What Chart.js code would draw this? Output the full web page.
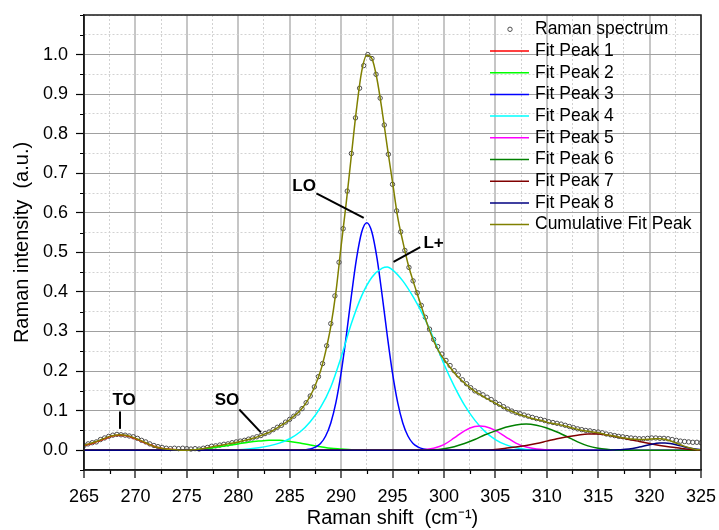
<!DOCTYPE html>
<html>
<head>
<meta charset="utf-8">
<title>Raman spectrum peak fit</title>
<script src="https://cdn.jsdelivr.net/npm/chart.js@4.4.0/dist/chart.umd.min.js"></script>
<style>
  html, body { margin: 0; padding: 0; background: #fff; }
  canvas { display: block; }
</style>
</head>
<body>
<canvas id="ramanChart" width="719" height="530"></canvas>
<script>
const ramanShift = [
  265.0, 265.4, 265.8, 266.2, 266.6, 267.0, 267.4, 267.8, 268.2, 268.6,
  269.0, 269.4, 269.8, 270.2, 270.6, 271.0, 271.4, 271.8, 272.2, 272.6,
  273.0, 273.4, 273.8, 274.2, 274.6, 275.0, 275.4, 275.8, 276.2, 276.6,
  277.0, 277.4, 277.8, 278.2, 278.6, 279.0, 279.4, 279.8, 280.2, 280.6,
  281.0, 281.4, 281.8, 282.2, 282.6, 283.0, 283.4, 283.8, 284.2, 284.6,
  285.0, 285.4, 285.8, 286.2, 286.6, 287.0, 287.4, 287.8, 288.2, 288.6,
  289.0, 289.4, 289.8, 290.2, 290.6, 291.0, 291.4, 291.8, 292.2, 292.6,
  293.0, 293.4, 293.8, 294.2, 294.6, 295.0, 295.4, 295.8, 296.2, 296.6,
  297.0, 297.4, 297.8, 298.2, 298.6, 299.0, 299.4, 299.8, 300.2, 300.6,
  301.0, 301.4, 301.8, 302.2, 302.6, 303.0, 303.4, 303.8, 304.2, 304.6,
  305.0, 305.4, 305.8, 306.2, 306.6, 307.0, 307.4, 307.8, 308.2, 308.6,
  309.0, 309.4, 309.8, 310.2, 310.6, 311.0, 311.4, 311.8, 312.2, 312.6,
  313.0, 313.4, 313.8, 314.2, 314.6, 315.0, 315.4, 315.8, 316.2, 316.6,
  317.0, 317.4, 317.8, 318.2, 318.6, 319.0, 319.4, 319.8, 320.2, 320.6,
  321.0, 321.4, 321.8, 322.2, 322.6, 323.0, 323.4, 323.8, 324.2, 324.6,
  325.0
];
const ramanIntensity = [
  0.012, 0.016, 0.019, 0.021, 0.027, 0.031, 0.035, 0.038, 0.040, 0.039,
  0.038, 0.036, 0.034, 0.030, 0.025, 0.021, 0.016, 0.012, 0.009, 0.007,
  0.005, 0.004, 0.005, 0.004, 0.005, 0.004, 0.003, 0.004, 0.003, 0.005,
  0.007, 0.010, 0.011, 0.013, 0.015, 0.016, 0.019, 0.021, 0.023, 0.025,
  0.028, 0.031, 0.034, 0.037, 0.042, 0.046, 0.052, 0.058, 0.063, 0.071,
  0.078, 0.086, 0.094, 0.105, 0.120, 0.137, 0.160, 0.186, 0.219, 0.264,
  0.320, 0.390, 0.475, 0.560, 0.655, 0.750, 0.840, 0.915, 0.972, 1.000,
  0.990, 0.950, 0.890, 0.822, 0.748, 0.672, 0.605, 0.552, 0.505, 0.462,
  0.428, 0.398, 0.366, 0.336, 0.306, 0.280, 0.262, 0.243, 0.227, 0.214,
  0.201, 0.190, 0.178, 0.168, 0.158, 0.150, 0.145, 0.140, 0.134, 0.128,
  0.121, 0.116, 0.110, 0.104, 0.099, 0.095, 0.092, 0.089, 0.086, 0.083,
  0.080, 0.078, 0.075, 0.072, 0.070, 0.068, 0.066, 0.063, 0.060, 0.057,
  0.054, 0.052, 0.050, 0.049, 0.047, 0.046, 0.044, 0.041, 0.039, 0.037,
  0.035, 0.034, 0.032, 0.031, 0.030, 0.029, 0.029, 0.030, 0.031, 0.031,
  0.030, 0.030, 0.029, 0.027, 0.025, 0.023, 0.022, 0.021, 0.020, 0.020,
  0.019
];

// cumulative fit curve
const fitShift = [
  265, 265.5, 266, 266.5, 267, 267.5, 268, 268.5, 269, 269.5,
  270, 270.5, 271, 271.5, 272, 272.5, 273, 273.5, 274, 274.5,
  275, 275.5, 276, 276.5, 277, 277.5, 278, 278.5, 279, 279.5,
  280, 280.5, 281, 281.5, 282, 282.5, 283, 283.5, 284, 284.5,
  285, 285.5, 286, 286.5, 287, 287.5, 288, 288.5, 289, 289.5,
  290, 290.5, 291, 291.5, 292, 292.5, 293, 293.5, 294, 294.5,
  295, 295.5, 296, 296.5, 297, 297.5, 298, 298.5, 299, 299.5,
  300, 300.5, 301, 301.5, 302, 302.5, 303, 303.5, 304, 304.5,
  305, 305.5, 306, 306.5, 307, 307.5, 308, 308.5, 309, 309.5,
  310, 310.5, 311, 311.5, 312, 312.5, 313, 313.5, 314, 314.5,
  315, 315.5, 316, 316.5, 317, 317.5, 318, 318.5, 319, 319.5,
  320, 320.5, 321, 321.5, 322, 322.5, 323, 323.5, 324, 324.5,
  325
];
const cumulativeFit = [
  0.013, 0.016, 0.020, 0.025, 0.030, 0.035, 0.038, 0.039, 0.038, 0.035,
  0.030, 0.025, 0.019, 0.013, 0.008, 0.005, 0.003, 0.002, 0.001, 0.000,
  0.000, 0.001, 0.002, 0.004, 0.006, 0.009, 0.011, 0.013, 0.016, 0.018,
  0.021, 0.024, 0.027, 0.031, 0.035, 0.040, 0.045, 0.052, 0.060, 0.068,
  0.077, 0.088, 0.100, 0.116, 0.137, 0.165, 0.200, 0.250, 0.313, 0.400,
  0.515, 0.625, 0.745, 0.862, 0.957, 0.998, 0.990, 0.937, 0.856, 0.765,
  0.678, 0.590, 0.528, 0.472, 0.428, 0.388, 0.348, 0.310, 0.277, 0.250,
  0.230, 0.213, 0.196, 0.182, 0.170, 0.159, 0.149, 0.141, 0.133, 0.126,
  0.119, 0.112, 0.105, 0.099, 0.094, 0.089, 0.085, 0.081, 0.078, 0.075,
  0.071, 0.068, 0.066, 0.063, 0.060, 0.056, 0.053, 0.050, 0.048, 0.046,
  0.044, 0.041, 0.038, 0.036, 0.033, 0.031, 0.029, 0.028, 0.027, 0.027,
  0.028, 0.029, 0.029, 0.028, 0.024, 0.019, 0.014, 0.009, 0.005, 0.002,
  0.001
];

// single fitted peaks
const peak1Shift  = [265, 265.5, 266, 266.5, 267, 267.5, 268, 268.5, 269, 269.5, 270, 270.5, 271, 271.5, 272, 272.5, 273, 273.5, 274, 274.5, 275, 325];
const peak1Values = [0.012, 0.015, 0.019, 0.024, 0.029, 0.034, 0.037, 0.038, 0.037, 0.034, 0.029, 0.024, 0.018, 0.013, 0.008, 0.005, 0.003, 0.002, 0.001, 0, 0, 0];

const peak2Shift  = [265, 275, 276, 277, 278, 279, 280, 281, 282, 283, 284, 285, 286, 287, 288, 289, 290, 291, 292, 325];
const peak2Values = [0, 0, 0.002, 0.004, 0.008, 0.012, 0.016, 0.020, 0.023, 0.025, 0.025, 0.022, 0.018, 0.013, 0.009, 0.005, 0.003, 0.001, 0, 0];

const peak3Shift  = [265, 286, 286.5, 287, 287.5, 288, 288.5, 289, 289.5, 290, 290.5, 291, 291.5, 292, 292.5, 293, 293.5, 294, 294.5, 295, 295.5, 296, 296.5, 297, 297.5, 298, 298.5, 299, 325];
const peak3Values = [0, 0, 0.001, 0.003, 0.008, 0.017, 0.036, 0.069, 0.121, 0.195, 0.288, 0.390, 0.484, 0.551, 0.575, 0.551, 0.484, 0.390, 0.288, 0.195, 0.121, 0.069, 0.036, 0.017, 0.008, 0.003, 0.001, 0, 0];

const peak4Shift  = [265, 279, 280, 281, 282, 283, 284, 285, 286, 287, 288, 289, 290, 291, 292, 293, 294, 294.5, 295, 296, 297, 298, 299, 300, 301, 302, 303, 304, 305, 306, 307, 308, 309, 325];
const peak4Values = [0, 0, 0.001, 0.003, 0.006, 0.011, 0.018, 0.029, 0.046, 0.072, 0.108, 0.160, 0.235, 0.320, 0.390, 0.437, 0.460, 0.463, 0.456, 0.428, 0.388, 0.340, 0.282, 0.218, 0.162, 0.114, 0.076, 0.047, 0.027, 0.014, 0.006, 0.002, 0, 0];

const peak5Shift  = [265, 297, 298, 299, 300, 301, 302, 303, 303.5, 304, 305, 306, 307, 308, 309, 310, 311, 325];
const peak5Values = [0, 0, 0.001, 0.005, 0.014, 0.031, 0.049, 0.060, 0.061, 0.060, 0.050, 0.034, 0.018, 0.008, 0.003, 0.001, 0, 0];

const peak6Shift  = [265, 298, 299, 300, 301, 302, 303, 304, 305, 306, 307, 308, 309, 310, 311, 312, 313, 314, 315, 316, 317, 325];
const peak6Values = [0, 0, 0.001, 0.004, 0.009, 0.017, 0.027, 0.039, 0.049, 0.058, 0.064, 0.066, 0.063, 0.056, 0.046, 0.034, 0.021, 0.011, 0.005, 0.002, 0, 0];

const peak7Shift  = [265, 304, 305, 306, 307, 308, 309, 310, 311, 312, 313, 314, 315, 316, 317, 318, 319, 320, 321, 322, 323, 324, 325];
const peak7Values = [0, 0, 0.002, 0.005, 0.008, 0.012, 0.017, 0.023, 0.029, 0.034, 0.038, 0.041, 0.041, 0.038, 0.033, 0.027, 0.022, 0.017, 0.012, 0.008, 0.005, 0.002, 0];

const peak8Shift  = [265, 316, 317, 318, 319, 320, 321, 321.5, 322, 323, 324, 325];
const peak8Values = [0, 0, 0.001, 0.003, 0.008, 0.014, 0.018, 0.018, 0.017, 0.011, 0.005, 0.001];

// axis tick labels
const xTickLabels = [265, 270, 275, 280, 285, 290, 295, 300, 305, 310, 315, 320, 325];
const yTickLabels = [0.0, 0.1, 0.2, 0.3, 0.4, 0.5, 0.6, 0.7, 0.8, 0.9, 1.0];

// peak labels: text position and pointer line, in data units
const peakNotes = [
  { text: 'TO', at: [268.9, 0.126], from: [268.5, 0.098], to: [268.5, 0.054] },
  { text: 'SO', at: [278.9, 0.125], from: [280.1, 0.103], to: [282.2, 0.045] },
  { text: 'LO', at: [286.4, 0.667], from: [287.6, 0.649], to: [292.2, 0.587] },
  { text: 'L+', at: [299.0, 0.524], from: [295.1, 0.476], to: [297.7, 0.513] }
];

const FONT = "'Liberation Sans', Arial, sans-serif";
Chart.defaults.font.family = FONT;
Chart.defaults.color = '#000';

const near = (a, b) => Math.abs(a - b) < 1e-6;
const isMajorX = v => xTickLabels.some(t => near(t, v));
const isMajorY = v => yTickLabels.some(t => near(t, v));
const pts = (xs, ys) => xs.map((x, i) => ({ x: x, y: ys[i] }));

function peakLine(label, color, xs, ys, order) {
  return {
    label: label,
    data: pts(xs, ys),
    borderColor: color,
    backgroundColor: color,
    borderWidth: 1.5,
    pointRadius: 0,
    fill: false,
    cubicInterpolationMode: 'monotone',
    order: order
  };
}

const datasets = [
  {
    label: 'Raman spectrum',
    data: pts(ramanShift, ramanIntensity),
    showLine: false,
    pointStyle: 'circle',
    pointRadius: 2.2,
    pointBorderWidth: 1,
    pointBorderColor: '#4d4d4d',
    pointBackgroundColor: 'rgba(255,255,255,0)',
    borderColor: '#4d4d4d',
    order: 10
  },
  peakLine('Fit Peak 1', '#ff0000', peak1Shift, peak1Values, 8),
  peakLine('Fit Peak 2', '#00ff00', peak2Shift, peak2Values, 7),
  peakLine('Fit Peak 3', '#0000ff', peak3Shift, peak3Values, 6),
  peakLine('Fit Peak 4', '#00ffff', peak4Shift, peak4Values, 5),
  peakLine('Fit Peak 5', '#ff00ff', peak5Shift, peak5Values, 4),
  peakLine('Fit Peak 6', '#008000', peak6Shift, peak6Values, 3),
  peakLine('Fit Peak 7', '#800000', peak7Shift, peak7Values, 2),
  peakLine('Fit Peak 8', '#000080', peak8Shift, peak8Values, 1),
  peakLine('Cumulative Fit Peak', '#808000', fitShift, cumulativeFit, 0)
];

// minor ticks (shorter) and the closed frame round the plot
const frameTicks = {
  id: 'frameTicks',
  afterDraw(chart) {
    const { ctx, chartArea: a, scales: { x, y } } = chart;
    ctx.save();
    ctx.strokeStyle = '#000';
    ctx.lineWidth = 1.2;
    ctx.beginPath();
    x.ticks.forEach(t => {
      if (isMajorX(t.value)) return;
      const px = Math.round(x.getPixelForValue(t.value)) + 0.5;
      ctx.moveTo(px, a.bottom);
      ctx.lineTo(px, a.bottom + 4);
    });
    y.ticks.forEach(t => {
      if (isMajorY(t.value)) return;
      const py = Math.round(y.getPixelForValue(t.value)) + 0.5;
      ctx.moveTo(a.left, py);
      ctx.lineTo(a.left - 4, py);
    });
    ctx.stroke();
    ctx.lineWidth = 1.5;
    ctx.strokeStyle = '#1a1a1a';
    ctx.strokeRect(a.left, a.top, a.right - a.left, a.bottom - a.top);
    ctx.restore();
  }
};

// TO / SO / LO / L+ labels
const peakLabels = {
  id: 'peakLabels',
  afterDatasetsDraw(chart) {
    const { ctx, scales: { x, y } } = chart;
    ctx.save();
    ctx.strokeStyle = '#000';
    ctx.lineWidth = 2;
    ctx.fillStyle = '#000';
    ctx.font = 'bold 17px ' + FONT;
    ctx.textAlign = 'center';
    ctx.textBaseline = 'middle';
    peakNotes.forEach(n => {
      ctx.beginPath();
      ctx.moveTo(x.getPixelForValue(n.from[0]), y.getPixelForValue(n.from[1]));
      ctx.lineTo(x.getPixelForValue(n.to[0]), y.getPixelForValue(n.to[1]));
      ctx.stroke();
      ctx.fillText(n.text, x.getPixelForValue(n.at[0]), y.getPixelForValue(n.at[1]));
    });
    ctx.restore();
  }
};

// legend inside the plot, top right
const insideLegend = {
  id: 'insideLegend',
  afterDraw(chart) {
    const { ctx, chartArea: a } = chart;
    const x0 = a.right - 211;
    ctx.save();
    ctx.font = '17.5px ' + FONT;
    ctx.textAlign = 'left';
    ctx.textBaseline = 'middle';
    chart.data.datasets.forEach((ds, i) => {
      const yRow = a.top + 14.3 + i * 21.7;
      if (ds.showLine === false) {
        ctx.beginPath();
        ctx.arc(x0 + 20, yRow, 2.2, 0, Math.PI * 2);
        ctx.lineWidth = 1;
        ctx.strokeStyle = ds.pointBorderColor;
        ctx.stroke();
      } else {
        ctx.beginPath();
        ctx.moveTo(x0, yRow);
        ctx.lineTo(x0 + 39, yRow);
        ctx.lineWidth = 1.5;
        ctx.strokeStyle = ds.borderColor;
        ctx.stroke();
      }
      ctx.fillStyle = '#000';
      ctx.fillText(ds.label, x0 + 45, yRow);
    });
    ctx.restore();
  }
};

new Chart(document.getElementById('ramanChart'), {
  type: 'line',
  data: { datasets: datasets },
  options: {
    responsive: false,
    animation: false,
    devicePixelRatio: 1,
    events: [],
    layout: { padding: { top: 15, right: 18, left: 0, bottom: 0 } },
    plugins: {
      legend: { display: false },
      tooltip: { enabled: false }
    },
    scales: {
      x: {
        type: 'linear',
        min: 265,
        max: 325,
        afterFit: s => { s.height = 60; s.paddingLeft = 0; s.paddingRight = 0; },
        ticks: {
          stepSize: 2.5,
          maxTicksLimit: 100,
          autoSkip: false,
          maxRotation: 0,
          padding: 8,
          font: { size: 18 },
          color: '#000',
          callback: v => isMajorX(v) ? String(v) : ''
        },
        grid: {
          color: c => isMajorX(c.tick.value) ? '#c6c6c6' : '#d2d2d2',
          lineWidth: c => isMajorX(c.tick.value) ? 2 : 1,
          tickColor: c => isMajorX(c.tick.value) ? '#000' : 'rgba(0,0,0,0)',
          tickLength: 8,
          tickWidth: 1.2
        },
        border: {
          display: true,
          color: '#1a1a1a',
          width: 1.5,
          dash: c => (c.tick && !isMajorX(c.tick.value)) ? [2, 2] : []
        },
        title: {
          display: true,
          text: 'Raman shift  (cm\u207B\u00B9)',
          font: { size: 20 },
          color: '#000',
          padding: { top: 0, bottom: 0 }
        }
      },
      y: {
        type: 'linear',
        min: -0.05,
        max: 1.1,
        afterFit: s => { s.width = 84; s.paddingTop = 0; s.paddingBottom = 0; },
        ticks: {
          stepSize: 0.05,
          maxTicksLimit: 100,
          autoSkip: false,
          padding: 8,
          font: { size: 18 },
          color: '#000',
          callback: v => isMajorY(v) ? v.toFixed(1) : ''
        },
        grid: {
          color: c => isMajorY(c.tick.value) ? '#a0a0a0' : '#d2d2d2',
          lineWidth: 1,
          tickColor: c => isMajorY(c.tick.value) ? '#000' : 'rgba(0,0,0,0)',
          tickLength: 8,
          tickWidth: 1.2
        },
        border: {
          display: true,
          color: '#1a1a1a',
          width: 1.5,
          dash: c => (c.tick && !isMajorY(c.tick.value)) ? [2, 2] : []
        },
        title: {
          display: true,
          text: 'Raman intensity  (a.u.)',
          font: { size: 20 },
          color: '#000',
          padding: { top: 10, bottom: 0 }
        }
      }
    }
  },
  plugins: [frameTicks, peakLabels, insideLegend]
});
</script>
</body>
</html>
